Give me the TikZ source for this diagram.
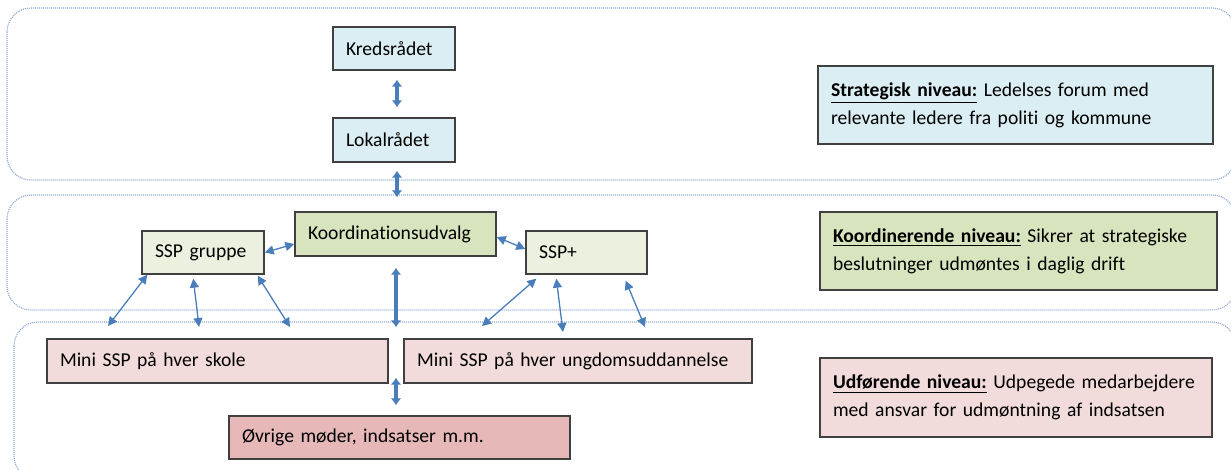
\documentclass[tikz,border=0pt]{standalone}
\usepackage{fontspec}
\setmainfont{Carlito}[Ligatures=NoCommon]
\usetikzlibrary{arrows.meta,calc}

\definecolor{kant}{HTML}{404040}
\definecolor{ramme}{HTML}{8EA8CF}
\definecolor{pil}{HTML}{4A7EBB}
\definecolor{blaa}{HTML}{DAEEF3}
\definecolor{groenmoerk}{HTML}{D7E4BD}
\definecolor{groenlys}{HTML}{EBF1DE}
\definecolor{roedlys}{HTML}{F2DCDB}
\definecolor{roedmoerk}{HTML}{E6B9B8}

\begin{document}
\begin{tikzpicture}[x=0.5pt, y=-0.5pt, font=\fontsize{9.8}{14}\selectfont,
    boks/.style={draw=kant, line width=0.7pt, inner xsep=6.5pt, inner ysep=0pt, align=left},
    niveau/.style={draw=ramme, dash pattern=on 0.5pt off 0.5pt, line width=0.6pt, rounded corners=12pt},
    tykpil/.style={draw=pil, line width=2pt, <->, >={Latex[length=3.5pt,width=5.5pt]}},
    tyndpil/.style={draw=pil, line width=0.65pt, <->, >={Triangle[length=4.5pt,width=4.5pt]}}]
    \useasboundingbox (0,0) rectangle (1231,470);

    % niveauer
    \draw[niveau] (7,8) rectangle (1236,180);
    \draw[niveau] (7,195) rectangle (1236,310);
    \draw[niveau] (14,322) rectangle (1236,480);

    % strategisk
    \node[boks, fill=blaa, text width=48pt, minimum height=21.5pt] (kreds) at (394,48.5) {Kredsrådet};
    \node[boks, fill=blaa, text width=48pt, minimum height=22pt] (lokal) at (394,140) {Lokalrådet};

    % koordinerende
    \node[boks, fill=groenmoerk, text width=87.5pt, minimum height=22pt] (koord) at (395.5,234) {Koordinationsudvalg};
    \node[boks, fill=groenlys, text width=48pt, minimum height=21.5pt] (sspgrp) at (203,252.5) {SSP gruppe};
    \node[boks, fill=groenlys, text width=47.5pt, minimum height=21.5pt] (ssppl) at (586.5,252.5) {SSP+};

    % udfoerende
    \node[boks, fill=roedlys, text width=157.5pt, minimum height=22pt] (miniskole) at (217.5,361) {Mini SSP på hver skole};
    \node[boks, fill=roedlys, text width=161pt, minimum height=22pt] (miniung) at (578,361) {Mini SSP på hver ungdomsuddannelse};
    \node[boks, fill=roedmoerk, text width=157.5pt, minimum height=21.5pt] (ovrige) at (399.5,437.5) {Øvrige møder, indsatser m.m.};

    % forklaringer
    \node[boks, fill=blaa, text width=184.5pt, minimum height=39pt] (strat) at (1015.5,105)
        {\underline{\textbf{Strategisk niveau:}} Ledelses forum med\\relevante ledere fra politi og kommune\par\vspace*{6pt}};
    \node[boks, fill=groenmoerk, text width=185.5pt, minimum height=39pt] (koordniv) at (1018.5,251)
        {\underline{\textbf{Koordinerende niveau:}} Sikrer at strategiske\\beslutninger udmøntes i daglig drift\par\vspace*{6pt}};
    \node[boks, fill=roedlys, text width=183pt, minimum height=39.5pt] (udf) at (1016,397.5)
        {\underline{\textbf{Udførende niveau:}} Udpegede medarbejdere\\med ansvar for udmøntning af indsatsen\par\vspace*{6pt}};

    % tykke pile
    \coordinate (gab) at ($(miniskole.east)!0.5!(miniung.west)$);
    \draw[tykpil, shorten <=4.5pt, shorten >=5pt] ([xshift=1.5pt]kreds.south) -- ([xshift=1.5pt]lokal.north);
    \draw[tykpil, shorten <=4pt, shorten >=7pt] ([xshift=1.5pt]lokal.south) -- ([xshift=1.5pt]lokal.south |- koord.north);
    \draw[tykpil, shorten <=5.5pt, shorten >=5.5pt] (gab |- koord.south) -- (gab |- miniskole.north);
    \draw[tykpil, shorten <=-3pt, shorten >=5pt] (gab |- miniskole.south) -- (gab |- ovrige.north);

    % tynde pile
    \coordinate (g1) at (108,326);
    \coordinate (g2) at (199,327);
    \coordinate (g3) at (290,327);
    \coordinate (p1) at (482,326);
    \coordinate (p2) at (563,332);
    \coordinate (p3) at (645,327);
    \draw[tyndpil] (sspgrp.east) -- ([yshift=-5pt]koord.west);
    \draw[tyndpil] ([yshift=-1.5pt]koord.east) -- ([yshift=1.75pt]ssppl.west);
    \draw[tyndpil] ($(sspgrp.south west)+(6,0)$) -- (g1);
    \draw[tyndpil] ($(sspgrp.south west)+(52,4)$) -- (g2);
    \draw[tyndpil] ($(sspgrp.south east)+(-7,1)$) -- (g3);
    \draw[tyndpil] ($(ssppl.south west)+(11,4)$) -- (p1);
    \draw[tyndpil] ($(ssppl.south west)+(31,4)$) -- (p2);
    \draw[tyndpil] ($(ssppl.south east)+(-22,6)$) -- (p3);
\end{tikzpicture}
\end{document}
